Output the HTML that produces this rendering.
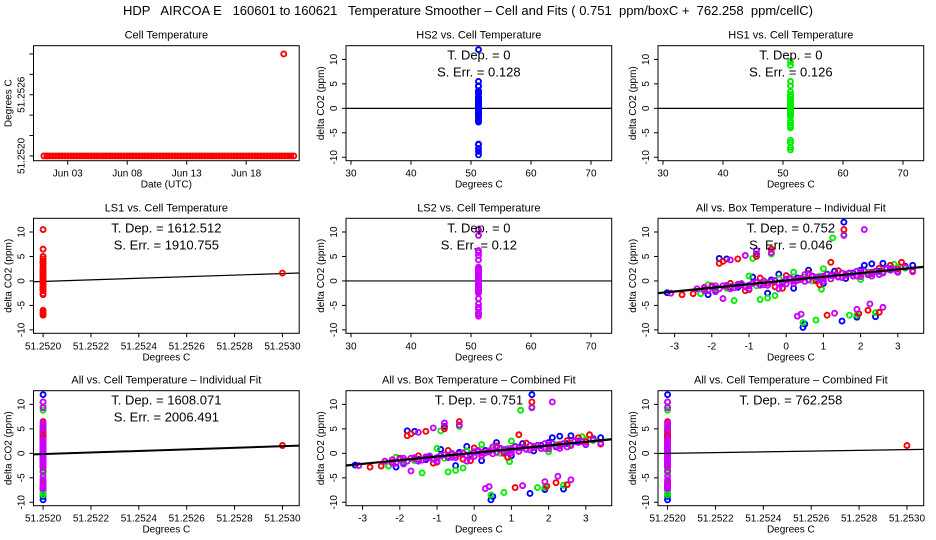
<!DOCTYPE html>
<html><head><meta charset="utf-8"><style>
html,body{margin:0;padding:0;background:#fff;}
svg{display:block;font-family:"Liberation Sans",sans-serif;}
</style></head><body>
<svg id="chart" width="936" height="540" viewBox="0 0 936 540" xmlns="http://www.w3.org/2000/svg">
<rect x="0" y="0" width="936" height="540" fill="#fff"/>
<text x="468" y="15" font-size="13" text-anchor="middle" xml:space="preserve">HDP   AIRCOA E   160601 to 160621   Temperature Smoother – Cell and Fits ( 0.751  ppm/boxC +  762.258  ppm/cellC)</text>
</svg>
<script>
// ---- data ----
const cellDayStart = 1.0, cellDayStep = 0.25;
const cellTemps = [51.2520,51.2520,51.2520,51.2520,51.2520,51.2520,51.2520,51.2520,51.2520,51.2520,
51.2520,51.2520,51.2520,51.2520,51.2520,51.2520,51.2520,51.2520,51.2520,51.2520,
51.2520,51.2520,51.2520,51.2520,51.2520,51.2520,51.2520,51.2520,51.2520,51.2520,
51.2520,51.2520,51.2520,51.2520,51.2520,51.2520,51.2520,51.2520,51.2520,51.2520,
51.2520,51.2520,51.2520,51.2520,51.2520,51.2520,51.2520,51.2520,51.2520,51.2520,
51.2520,51.2520,51.2520,51.2520,51.2520,51.2520,51.2520,51.2520,51.2520,51.2520,
51.2520,51.2520,51.2520,51.2520,51.2520,51.2520,51.2520,51.2520,51.2520,51.2520,
51.2520,51.2520,51.2520,51.2520,51.2520,51.2520,51.2520,51.2520,51.2520,51.2520,
51.2520,51.2520,51.2520,51.2520,51.2520];
const cellOutlierDay = [21.15];
const cellOutlierTemp = [51.2530];
const dayTicks = [3,8,13,18];
const dayTickLabels = ["Jun 03","Jun 08","Jun 13","Jun 18"];

const hs2X = [-3.2,-2.2,-1.9,-1.8,-1.6,-1.5,-1.2,-0.9,-0.8,-0.6,-0.4,-0.2,0,0.2,0.3,0.45,0.5,0.7,0.9,1.1,1.3,1.55,1.5,1.7,1.9,2.0,2.1,2.3,2.4,2.6,2.8,3.0,3.2,3.4,1.0,-0.5,0.6,1.6,
-1.9,-1.3,-0.7,-0.1,0.4,1.2,1.8,2.5,-1.0,0.8,2.2,-2.1];
const hs2Y = [-2.4,-1.8,-1.5,4.6,4.5,-1.2,-0.8,0.8,5.5,-0.3,0.2,1.4,0.3,-1.5,0.6,-9.5,-8.8,1.0,0.8,1.4,2.0,12,-8.2,1.6,-7.4,2.2,3.2,3.5,-7.3,3.6,2.5,1.8,3.0,3.2,-0.5,-2.5,2.2,0.5,
-2.0,-1.3,-0.6,-0.2,0.5,1.2,1.6,2.0,-0.9,0.3,1.3,-2.8];
const hs1X = [-2.3,-2.1,-1.4,-1.0,-0.9,-0.7,-0.5,-0.4,-0.3,0.2,0.45,0.8,0.95,1.0,1.25,1.55,1.7,1.9,2.0,2.4,2.9,3.0,-1.9,-1.2,0.5,1.4,2.2,-0.2,0.7,2.6,1.6,-0.8,
-1.6,-0.6,0.1,0.9,1.7,2.4,3.2,-2.0];
const hs1Y = [-2.6,-0.8,-4.0,1.0,4.6,-3.8,-3.5,5.5,-3.0,1.8,-8.5,-8.0,-1.7,2.5,8.8,9.5,-7.0,-7.0,0.3,-6.5,3.4,2.8,-1.6,-0.5,0.8,0.9,1.8,0.5,0.0,2.0,1.3,-1.0,
-1.5,-0.2,0.4,1.0,1.5,1.9,2.6,-1.2];
const ls1X = [-2.5,-2.0,-1.8,-1.7,-1.5,-1.3,-1.1,-0.8,-0.7,-0.4,-0.3,0.0,0.4,0.8,1.1,1.2,1.55,1.8,1.95,2.2,2.5,2.5,2.8,3.1,3.4,-2.8,-0.1,0.6,1.4,2.0,-1.0,0.9,
-1.6,-0.5,0.2,1.0,1.6,2.3,3.0,-2.2];
const ls1Y = [-2.6,-1.0,3.6,4.0,-0.5,4.5,-2.0,5.0,0.6,6.5,-1.2,1.1,0.3,0.0,-7.0,3.8,10.5,1.0,-6.7,-6.0,-6.4,2.6,3.2,3.8,1.9,-2.8,-1.5,1.5,2.1,1.5,-1.8,-0.8,
-1.1,-0.4,0.2,0.8,1.2,1.8,2.4,-1.8];
const ls2X = [-3.1,-2.2,-1.9,-1.7,-1.5,-1.1,-0.8,-0.4,-0.2,0.3,0.4,0.6,0.9,1.3,1.55,1.9,2.1,2.25,2.6,2.3,2.7,3.4,-1.3,-0.9,-0.6,0.1,0.5,1.0,1.5,1.9,-2.4,0.2,1.2,2.9,
-2.0,-1.8,-1.6,-1.4,-1.2,-1.0,-0.8,-0.6,-0.4,-0.2,0.0,0.2,0.4,0.6,0.8,1.0,1.2,1.4,1.6,1.8,2.0,2.2,2.4,2.6,2.8,-1.7,-0.7,0.3,1.3,2.3,
-2.1,-1.9,-1.5,-1.3,-1.1,-0.9,-0.5,-0.3,-0.1,0.1,0.5,0.7,0.9,1.1,1.5,1.7,1.9,2.1,2.5,2.7,3.0,3.2,-2.2,-1.0,0.0,1.0,2.0];
const ls2Y = [-2.5,-2.0,-2.2,-3.6,4.3,5.2,6.2,5.8,-1.6,-7.2,-6.8,1.2,0.5,-6.6,9.3,-5.8,10.5,-4.7,-5.4,1.0,2.6,2.1,-1.0,-0.4,0.0,0.6,1.3,1.0,1.6,2.0,-1.6,-0.5,0.4,2.4,
-1.2,-1.6,-0.9,-1.4,-0.6,-1.0,-0.3,-0.8,-0.1,-0.4,0.2,0.0,0.5,0.2,0.8,0.5,1.1,0.8,1.4,1.0,1.7,1.4,2.0,1.6,2.2,-1.0,-0.9,0.1,1.2,1.5,
-2.0,-1.0,-1.6,-0.7,-1.2,-0.5,-0.9,0.1,-0.6,0.4,-0.1,0.9,0.2,1.3,0.7,1.6,1.0,2.0,1.3,2.4,1.9,2.8,-1.3,-1.6,-0.6,0.0,0.9];
const ls1CellOutlierY = [1.6];
const cellTempBase = 51.2520, cellTempHigh = 51.2530, cellConst = 51.25;

const fitSlopes = {ls1:1612.512, allIndCell:1608.071, allCombCell:762.258, allIndBox:0.752, allCombBox:0.751};
const deltaTicks = [-10,-5,0,5,10];
const wideTicks = [30,40,50,60,70];
const cellTicks = [51.2520,51.2522,51.2524,51.2526,51.2528,51.2530];
const cellTickLabels = ["51.2520","51.2522","51.2524","51.2526","51.2528","51.2530"];
const boxTicks = [-3,-2,-1,0,1,2,3];
const p1TempTicks = [51.2520,51.2522,51.2524,51.2526,51.2528,51.2530];
const p1TempLabels = ["51.2520","","","51.2526","",""];

// ---- drawing ----
const NS = "http://www.w3.org/2000/svg";
const svg = document.getElementById("chart");
const colLeft = [33.5, 346, 658], rowTop = [45.7, 218.3, 390.7], PW = 265.7, PH = 115;
const COL = {blue:"#0000ff", green:"#00ee00", red:"#ff0000", mag:"#cc00ff"};
function el(tag, attrs, parent){const e=document.createElementNS(NS,tag);for(const k in attrs)e.setAttribute(k,attrs[k]);(parent||svg).appendChild(e);return e;}
function mkScale(d0,d1,r0,r1){return v=>r0+(v-d0)/(d1-d0)*(r1-r0);}

function panel(c,r,name,title,xd,yd,xt,xtl,yt,ytl,xlab,ylab){
  const L=colLeft[c],T=rowTop[r];
  const g=el("g",{});
  
  
  const sx=mkScale(xd[0],xd[1],L,L+PW), sy=mkScale(yd[0],yd[1],T+PH,T);
  const t=el("text",{x:L+PW/2,y:T-7,"font-size":11,"text-anchor":"middle"},g);t.textContent=title;
  
  
  xt.forEach((v,i)=>{const x=sx(v);el("line",{x1:x,x2:x,y1:T+PH,y2:T+PH+4,stroke:"#000"},g);
    const tx=el("text",{x:x,y:T+PH+16,"font-size":10,"text-anchor":"middle"},g);tx.textContent=xtl[i];
    
    });
  yt.forEach((v,i)=>{const y=sy(v);el("line",{x1:L,x2:L-4,y1:y,y2:y,stroke:"#000"},g);
    if(ytl[i]!==""){const tx=el("text",{x:L-9,y:y,"font-size":10,"text-anchor":"middle",transform:`rotate(-90 ${L-9} ${y})`},g);tx.textContent=ytl[i];
    
    }});
  const xl=el("text",{x:L+PW/2,y:T+PH+27,"font-size":10,"text-anchor":"middle"},g);xl.textContent=xlab;
  
  
  const yx=L-22,yy=T+PH/2;
  const yl=el("text",{x:yx,y:yy,"font-size":10,"text-anchor":"middle",transform:`rotate(-90 ${yx} ${yy})`},g);yl.textContent=ylab;
  
  
  const clipId="clip"+c+r;
  const cp=el("clipPath",{id:clipId},g);el("rect",{x:L,y:T,width:PW,height:PH},cp);
  const inner=el("g",{"clip-path":`url(#${clipId})`},g);
  return {g,inner,sx,sy,L,T};
}
function pts(p,xs,ys,color,name){xs.forEach((x,i)=>{const c=el("circle",{cx:p.sx(x),cy:p.sy(ys[i]),r:2.5,fill:"none",stroke:color,"stroke-width":1.9},p.inner);
  
  });}
function constX(v,ys){return ys.map(()=>v);}
function hline(p,v){el("line",{x1:p.L,x2:p.L+PW,y1:p.sy(v),y2:p.sy(v),stroke:"#000","stroke-width":1.2},p.inner);}
function fit(p,x0,y0,slope,xd,w){const a=xd[0],b=xd[1];const l=el("line",{x1:p.sx(a),y1:p.sy(y0+slope*(a-x0)),x2:p.sx(b),y2:p.sy(y0+slope*(b-x0)),stroke:"#000","stroke-width":w},p.inner);
  
  }
function ann(p,lines){lines.forEach((s,i)=>{const t=el("text",{x:p.L+PW/2,y:p.T+14+i*17,"font-size":13,"text-anchor":"middle","xml:space":"preserve"},p.g);t.textContent=s;
  
  });}
function frame(p){el("rect",{x:p.L,y:p.T,width:PW,height:PH,fill:"none",stroke:"#000","stroke-width":1},p.g);}

const yD=[-10.7,12.8], wideD=[29.17,73.45], cellD=[51.25196,51.25307], boxD=[-3.446,3.696];
const dLab=deltaTicks.map(String), yLab="delta CO2 (ppm)";

// Panel 1
let p=panel(0,0,"cell-temperature-panel","Cell Temperature",[0.126,22.45],[51.251953,51.253081],dayTicks,dayTickLabels,p1TempTicks,p1TempLabels,"Date (UTC)","Degrees C");
pts(p,cellTemps.map((v,i)=>cellDayStart+i*cellDayStep),cellTemps,COL.red,"cell-temp-point");
pts(p,cellOutlierDay,cellOutlierTemp,COL.red,"cell-temp-point");frame(p);

// Panel 2 HS2
p=panel(1,0,"hs2-panel","HS2 vs. Cell Temperature",wideD,yD,wideTicks,wideTicks.map(String),deltaTicks,dLab,"Degrees C",yLab);
hline(p,0);pts(p,constX(cellConst,hs2Y),hs2Y,COL.blue,"hs2-point");ann(p,["T. Dep. =  0","S. Err. =  0.128"]);frame(p);
// Panel 3 HS1
p=panel(2,0,"hs1-panel","HS1 vs. Cell Temperature",wideD,yD,wideTicks,wideTicks.map(String),deltaTicks,dLab,"Degrees C",yLab);
hline(p,0);pts(p,constX(cellConst,hs1Y),hs1Y,COL.green,"hs1-point");ann(p,["T. Dep. =  0","S. Err. =  0.126"]);frame(p);
// Panel 4 LS1
p=panel(0,1,"ls1-panel","LS1 vs. Cell Temperature",cellD,yD,cellTicks,cellTickLabels,deltaTicks,dLab,"Degrees C",yLab);
fit(p,cellTempBase,-0.1,fitSlopes.ls1,cellD,1.2);
pts(p,constX(cellTempBase,ls1Y),ls1Y,COL.red,"ls1-point");pts(p,[cellTempHigh],ls1CellOutlierY,COL.red,"ls1-point");
ann(p,["T. Dep. =  1612.512","S. Err. =  1910.755"]);frame(p);
// Panel 5 LS2
p=panel(1,1,"ls2-panel","LS2 vs. Cell Temperature",wideD,yD,wideTicks,wideTicks.map(String),deltaTicks,dLab,"Degrees C",yLab);
hline(p,0);pts(p,constX(cellConst,ls2Y),ls2Y,COL.mag,"ls2-point");ann(p,["T. Dep. =  0","S. Err. =  0.12"]);frame(p);
// Panel 6 box individual
function boxAll(p){pts(p,hs2X,hs2Y,COL.blue,"hs2-point");pts(p,hs1X,hs1Y,COL.green,"hs1-point");pts(p,ls1X,ls1Y,COL.red,"ls1-point");pts(p,ls2X,ls2Y,COL.mag,"ls2-point");}
p=panel(2,1,"all-box-individual-panel","All vs. Box Temperature – Individual Fit",boxD,yD,boxTicks,boxTicks.map(String),deltaTicks,dLab,"Degrees C",yLab);
boxAll(p);fit(p,0,0.1,fitSlopes.allIndBox,boxD,2.2);ann(p,["T. Dep. =  0.752","S. Err. =  0.046"]);frame(p);
// Panel 7
function cellAll(p){pts(p,constX(cellTempBase,hs2Y),hs2Y,COL.blue,"hs2-point");pts(p,constX(cellTempBase,hs1Y),hs1Y,COL.green,"hs1-point");pts(p,constX(cellTempBase,ls1Y),ls1Y,COL.red,"ls1-point");pts(p,constX(cellTempBase,ls2Y),ls2Y,COL.mag,"ls2-point");pts(p,[cellTempHigh],ls1CellOutlierY,COL.red,"ls1-point");}
p=panel(0,2,"all-cell-individual-panel","All vs. Cell Temperature – Individual Fit",cellD,yD,cellTicks,cellTickLabels,deltaTicks,dLab,"Degrees C",yLab);
cellAll(p);fit(p,cellTempBase,-0.15,fitSlopes.allIndCell,cellD,2);ann(p,["T. Dep. =  1608.071","S. Err. =  2006.491"]);frame(p);
// Panel 8
p=panel(1,2,"all-box-combined-panel","All vs. Box Temperature – Combined Fit",boxD,yD,boxTicks,boxTicks.map(String),deltaTicks,dLab,"Degrees C",yLab);
boxAll(p);fit(p,0,0.1,fitSlopes.allCombBox,boxD,2.2);ann(p,["T. Dep. =  0.751"]);frame(p);
// Panel 9
p=panel(2,2,"all-cell-combined-panel","All vs. Cell Temperature – Combined Fit",cellD,yD,cellTicks,cellTickLabels,deltaTicks,dLab,"Degrees C",yLab);
cellAll(p);fit(p,cellTempBase,0.0,fitSlopes.allCombCell,cellD,1.2);ann(p,["T. Dep. =  762.258"]);frame(p);
</script>
</body></html>
